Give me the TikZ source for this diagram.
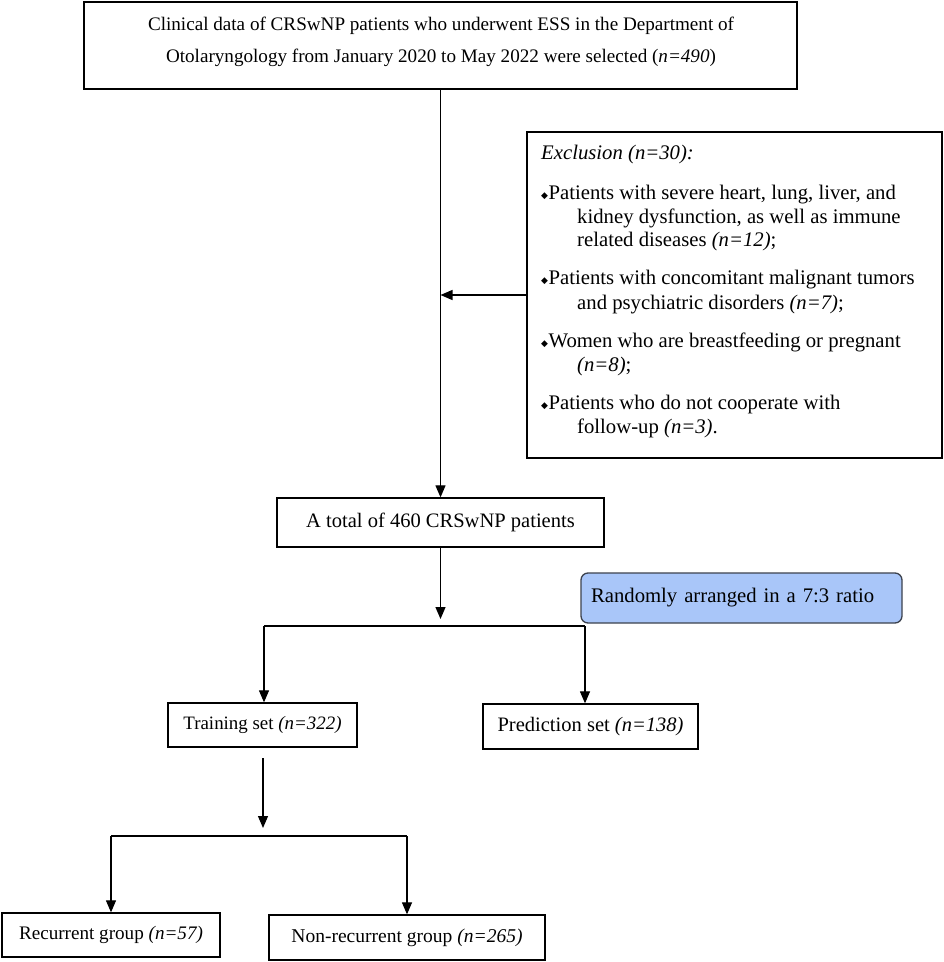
\documentclass[tikz,border=0pt]{standalone}
\usepackage{fontspec}
\setmainfont{Liberation Serif}
\newfontfamily\symfont{DejaVu Sans}
\usetikzlibrary{arrows.meta}
\newcommand\myfs[1]{\fontsize{#1}{#1}\selectfont}
\newcommand\bul{\raisebox{1bp}{\symfont\fontsize{9}{9}\selectfont ◆}\hspace{0.5bp}}
\definecolor{bluefill}{RGB}{169,198,249}
\definecolor{blueedge}{RGB}{60,66,78}
\begin{document}
\begin{tikzpicture}[x=1bp,y=-1bp,
  box/.style={draw=black, line width=1.3bp, inner sep=0pt, align=center},
  ln/.style={line width=1.2bp, black},
  arr/.style={ln, -{Triangle[length=12bp,width=10bp]}},
  txt/.style={inner sep=0pt, anchor=base}]
\useasboundingbox[fill=white] (0,0) rectangle (944,962);

% boxes
\node[box, minimum width=713bp, minimum height=87bp] (top) at (440.5,45.5) {};
\node[txt, font=\myfs{19.2}] (t1) at (441,30) {Clinical data of CRSwNP patients who underwent ESS in the Department of};
\node[txt, font=\myfs{19.2}] (t2) at (441,62) {Otolaryngology from January 2020 to May 2022 were selected (\textit{n=490})};

\node[box, minimum width=415bp, minimum height=326bp] (excl) at (734.5,295) {};
\begin{scope}[every node/.style={inner sep=0pt, anchor=base west, font=\myfs{20.8}}]
\node (e0) at (541,159) {\textit{Exclusion (n=30):}};
\node (e1) at (541,199) {\bul Patients with severe heart, lung, liver, and};
\node (e2) at (577,223) {kidney dysfunction, as well as immune};
\node (e3) at (577,246) {related diseases \textit{(n=12)};};
\node (e4) at (541,284) {\bul Patients with concomitant malignant tumors};
\node (e5) at (577,309) {and psychiatric disorders \textit{(n=7)};};
\node (e6) at (541,347) {\bul Women who are breastfeeding or pregnant};
\node (e7) at (577,371) {\textit{(n=8)};};
\node (e8) at (541,409) {\bul Patients who do not cooperate with};
\node (e9) at (577,433) {follow-up \textit{(n=3)}.};
\end{scope}

\node[box, minimum width=327bp, minimum height=49bp, font=\myfs{20.6}] (total) at (440.5,522.5) {A total of 460 CRSwNP patients};

\node[draw=blueedge, fill=bluefill, line width=1.3bp, rounded corners=7bp, minimum width=321bp, minimum height=50bp,
      inner xsep=10bp, inner ysep=0pt, text width=301bp, align=left, font=\myfs{20.8}] (rand) at (741.5,598) {Randomly arranged in a 7:3 ratio};

\node[box, minimum width=189bp, minimum height=44bp, font=\myfs{19}] (train) at (262.5,725) {Training set \textit{(n=322)}};
\node[box, minimum width=215bp, minimum height=45bp, font=\myfs{20.6}] (pred) at (590.5,726.5) {Prediction set \textit{(n=138)}};

\node[box, minimum width=218bp, minimum height=44bp, font=\myfs{19.2}] (rec) at (111,935) {Recurrent group \textit{(n=57)}};
\node[box, minimum width=276bp, minimum height=45bp, font=\myfs{19.6}] (non) at (407,937.5) {Non-recurrent group \textit{(n=265)}};

% connectors
\draw[arr] (top.south) -- (total.north);
\draw[arr] (excl.west) -- (excl.west -| top.south);

\coordinate (s1) at (440.5,619);
\coordinate (hl) at (264,626);
\coordinate (hr) at (585,626);
\draw[arr] (total.south) -- (s1);
\draw[ln] (hl) -- (hr);
\draw[arr] (hl) -- (hl |- train.north);
\draw[arr] (hr) -- (hr |- pred.north);

\coordinate (b0) at (263,758);
\coordinate (b1) at (263,828);
\coordinate (bl) at (111,836);
\coordinate (br) at (407,836);
\draw[arr] (b0) -- (b1);
\draw[ln] (bl) -- (br);
\draw[arr] (bl) -- (bl |- rec.north);
\draw[arr] (br) -- (br |- non.north);
\end{tikzpicture}
\end{document}
